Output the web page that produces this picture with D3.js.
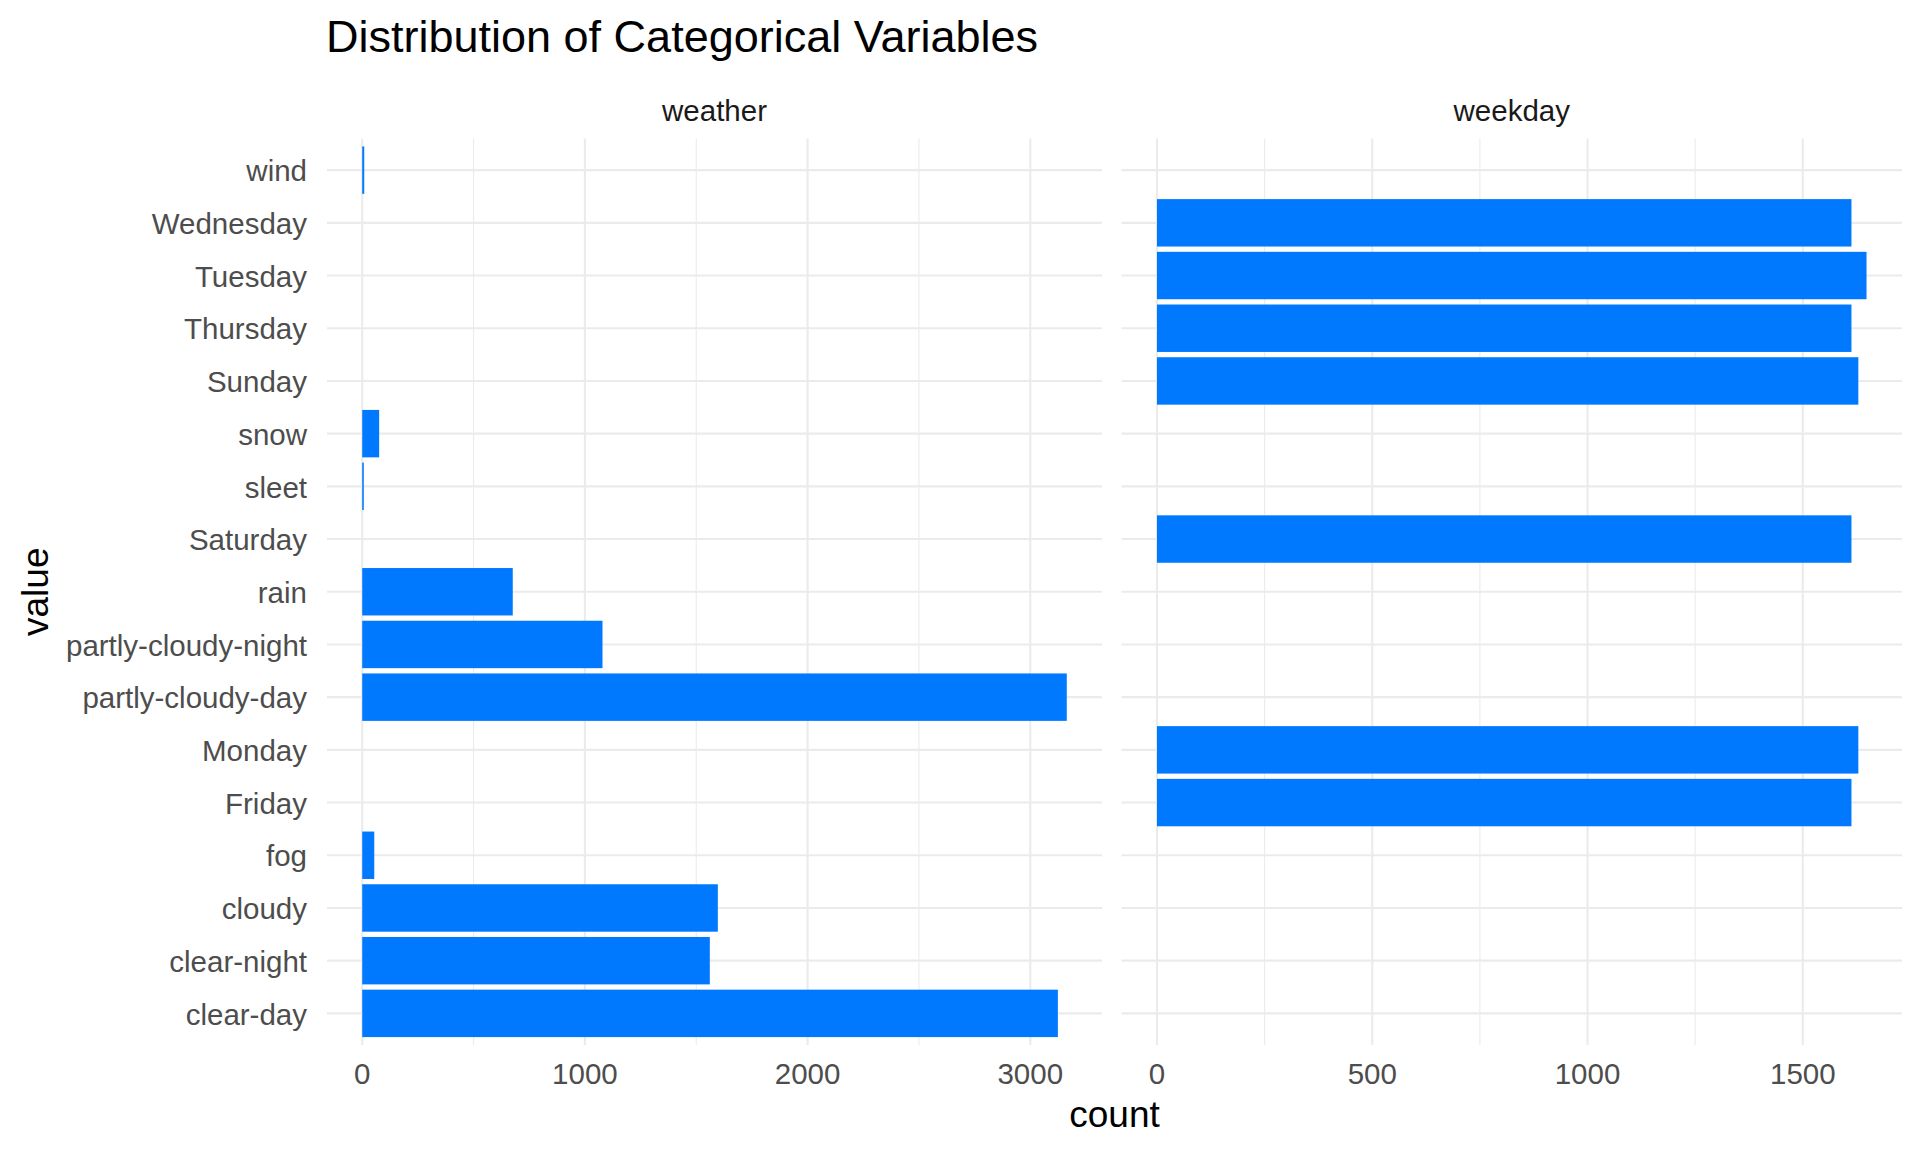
<!DOCTYPE html>
<html>
<head>
<meta charset="utf-8">
<script src="https://cdn.jsdelivr.net/npm/d3@7"></script>
<style>
  html, body { margin: 0; padding: 0; background: #ffffff; }
  svg { display: block; font-family: "Liberation Sans", Arial, sans-serif; }
</style>
</head>
<body>
<svg id="chart" width="1920" height="1152"></svg>
<script>
// ---- Data ----
const categories = ["clear-day", "clear-night", "cloudy", "fog", "Friday", "Monday",
  "partly-cloudy-day", "partly-cloudy-night", "rain", "Saturday", "sleet", "snow",
  "Sunday", "Thursday", "Tuesday", "Wednesday", "wind"];

const weatherLabels = ["clear-day", "clear-night", "cloudy", "fog", "partly-cloudy-day",
  "partly-cloudy-night", "rain", "sleet", "snow", "wind"];
const weatherCounts = [3124, 1561, 1597, 54, 3164, 1079, 676, 7, 76, 9];

const weekdayLabels = ["Friday", "Monday", "Saturday", "Sunday", "Thursday", "Tuesday", "Wednesday"];
const weekdayCounts = [1613, 1629, 1613, 1629, 1613, 1648, 1613];

const facetNames = ["weather", "weekday"];
const weatherTicks = [0, 1000, 2000, 3000];
const weatherMinor = [500, 1500, 2500];
const weekdayTicks = [0, 500, 1000, 1500];
const weekdayMinor = [250, 750, 1250];

const titleText = "Distribution of Categorical Variables";
const xTitle = "count";
const yTitle = "value";

// ---- Layout ----
const svg = d3.select("#chart");
const barColor = "#0079FF";
const gridColor = "#EBEBEB";
const tickColor = "#4D4D4D";
const panelTop = 138.5, panelBottom = 1045;

// Discrete scale with 0.6 units of expansion on each side
const order = categories.slice().reverse();
const n = categories.length;
const y = d3.scalePoint().domain(order)
  .range([panelTop, panelBottom]).padding(0.6);
const step = y.step();
const yc = d => y(d);
const barH = step * 0.9;

const panels = [
  { name: facetNames[0], labels: weatherLabels, counts: weatherCounts, ticks: weatherTicks, minor: weatherMinor, x0: 327, x1: 1102 },
  { name: facetNames[1], labels: weekdayLabels, counts: weekdayCounts, ticks: weekdayTicks, minor: weekdayMinor, x0: 1121.5, x1: 1902 }
];

panels.forEach(p => {
  const mx = d3.max(p.counts);
  const x = d3.scaleLinear().domain([-0.05 * mx, 1.05 * mx]).range([p.x0, p.x1]);
  const g = svg.append("g");

  // minor vertical gridlines
  g.selectAll("line.minor").data(p.minor).enter().append("line")
    .attr("x1", d => x(d)).attr("x2", d => x(d))
    .attr("y1", panelTop).attr("y2", panelBottom)
    .attr("stroke", gridColor).attr("stroke-width", 1.1);
  // major horizontal gridlines
  g.selectAll("line.hy").data(categories).enter().append("line")
    .attr("x1", p.x0).attr("x2", p.x1)
    .attr("y1", d => yc(d)).attr("y2", d => yc(d))
    .attr("stroke", gridColor).attr("stroke-width", 2.1);
  // major vertical gridlines
  g.selectAll("line.major").data(p.ticks).enter().append("line")
    .attr("x1", d => x(d)).attr("x2", d => x(d))
    .attr("y1", panelTop).attr("y2", panelBottom)
    .attr("stroke", gridColor).attr("stroke-width", 2.1);

  // bars
  g.selectAll("rect.bar").data(p.labels.map((l, i) => ({ l, v: p.counts[i] }))).enter().append("rect")
    .attr("x", x(0))
    .attr("y", d => yc(d.l) - barH / 2)
    .attr("width", d => Math.max(0, x(d.v) - x(0)))
    .attr("height", barH)
    .attr("fill", barColor);

  // x tick labels
  g.selectAll("text.xt").data(p.ticks).enter().append("text")
    .attr("x", d => x(d)).attr("y", 1083.5)
    .attr("text-anchor", "middle")
    .attr("font-size", 29.5).attr("fill", tickColor)
    .text(d => d3.format("d")(d));

  // strip label
  g.append("text")
    .attr("x", (p.x0 + p.x1) / 2).attr("y", 120.5)
    .attr("text-anchor", "middle")
    .attr("font-size", 29.5).attr("fill", "#1A1A1A")
    .text(p.name);
});

// y tick labels
svg.selectAll("text.yt").data(categories).enter().append("text")
  .attr("x", 307).attr("y", d => yc(d))
  .attr("dy", "0.38em")
  .attr("text-anchor", "end")
  .attr("font-size", 29.5).attr("fill", tickColor)
  .text(d => d);

// axis titles
svg.append("text")
  .attr("x", (327 + 1902) / 2).attr("y", 1126.5)
  .attr("text-anchor", "middle")
  .attr("font-size", 37).attr("fill", "#000000")
  .text(xTitle);

svg.append("text")
  .attr("transform", `translate(48, ${(panelTop + panelBottom) / 2}) rotate(-90)`)
  .attr("text-anchor", "middle")
  .attr("font-size", 37).attr("fill", "#000000")
  .text(yTitle);

// title
svg.append("text")
  .attr("x", 326).attr("y", 52)
  .attr("font-size", 45).attr("fill", "#000000")
  .text(titleText);
</script>
</body>
</html>
